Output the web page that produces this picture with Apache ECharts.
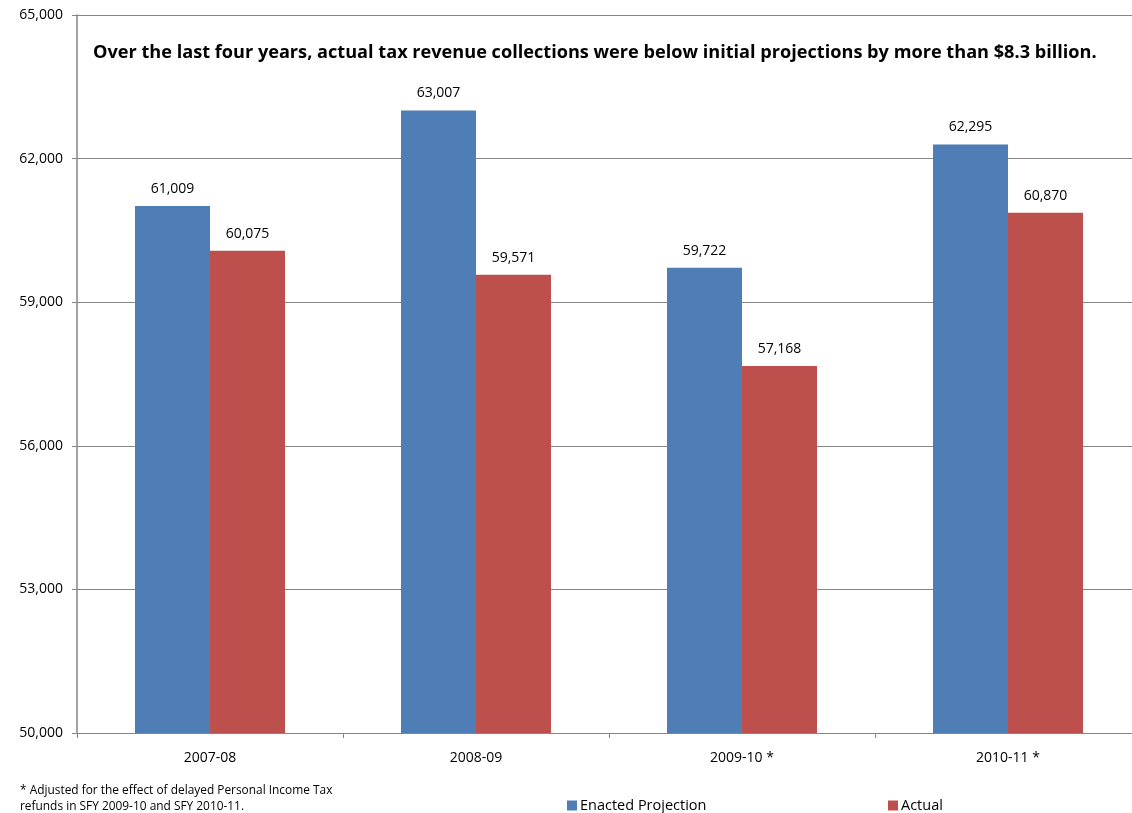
<!DOCTYPE html>
<html>
<head>
<meta charset="utf-8">
<script src="https://cdn.jsdelivr.net/npm/echarts@6/dist/echarts.min.js"></script>
<style>html,body{margin:0;padding:0;background:#fff;overflow:hidden}#c{width:1141px;height:813px}</style>
</head>
<body>
<div id="c"></div>
<script>
var categories = ['2007-08', '2008-09', '2009-10 *', '2010-11 *'];
var enacted = [61009, 63007, 59722, 62295];
// NOTE: in the reference picture the 2009-10 "Actual" bar is drawn at about 57,668,
// but its printed label reads 57,168. The bar height below follows the picture and
// the label text follows the printed label; the two disagree in the source chart.
var actual = [60075, 59571, 57668, 60870];
var enactedLabels = ['61,009', '63,007', '59,722', '62,295'];
var actualLabels = ['60,075', '59,571', '57,168', '60,870'];
var yTicks = [50000, 53000, 56000, 59000, 62000, 65000];

var font = 'Open Sans';
var chart = echarts.init(document.getElementById('c'));
chart.setOption({
  animation: false,
  backgroundColor: '#fff',
  title: {
    text: 'Over the last four years, actual tax revenue collections were below initial projections by more than $8.3 billion.',
    left: 88, top: 39,
    textStyle: {fontFamily: font, fontWeight: 'bold', fontSize: 18.15, color: '#000'}
  },
  legend: [
    {data: ['Enacted Projection'], left: 562, top: 793, itemWidth: 10, itemHeight: 10, itemGap: 3,
     textStyle: {fontFamily: font, fontSize: 14.5, color: '#000', padding: [0, 0, 0, -2]}, icon: 'rect'},
    {data: ['Actual'], left: 883, top: 793, itemWidth: 10, itemHeight: 10,
     textStyle: {fontFamily: font, fontSize: 14.5, color: '#000', padding: [0, 0, 0, -2]}, icon: 'rect'}
  ],
  graphic: [
    {type: 'text', left: 20, top: 783, style: {text: '* Adjusted for the effect of delayed Personal Income Tax\nrefunds in SFY 2009-10 and SFY 2010-11.', fontFamily: font, fontSize: 11.9, lineHeight: 16, fill: '#000'}}
  ],
  grid: {left: 77, top: 15, right: 0, bottom: 80},
  xAxis: {
    type: 'category', data: categories,
    axisLine: {lineStyle: {color: '#868686', width: 1}},
    axisTick: {show: true, length: 5, lineStyle: {color: '#868686'}},
    axisLabel: {fontFamily: font, fontSize: 14, color: '#000', margin: 18}
  },
  yAxis: {
    type: 'value', min: 50000, max: 65000, interval: 3000,
    axisLine: {show: true, lineStyle: {color: '#868686', width: 1.5}},
    axisTick: {show: true, length: 5, lineStyle: {color: '#868686'}},
    splitLine: {lineStyle: {color: '#868686', width: 1}},
    axisLabel: {fontFamily: font, fontSize: 14, color: '#000', margin: 14,
      formatter: function (v) { return yTicks.indexOf(v) >= 0 ? v.toLocaleString('en-US') : ''; }}
  },
  series: [
    {name: 'Enacted Projection', type: 'bar', data: enacted, barWidth: 75, barGap: '0%',
     itemStyle: {color: '#4F7DB6'},
     label: {show: true, position: 'top', distance: 10, fontFamily: font, fontSize: 14, color: '#000',
       formatter: function (p) { return enactedLabels[p.dataIndex]; }}},
    {name: 'Actual', type: 'bar', data: actual, barWidth: 75,
     itemStyle: {color: '#BD504D'},
     label: {show: true, position: 'top', distance: 10, fontFamily: font, fontSize: 14, color: '#000',
       formatter: function (p) { return actualLabels[p.dataIndex]; }}}
  ]
});
</script>
</body>
</html>
